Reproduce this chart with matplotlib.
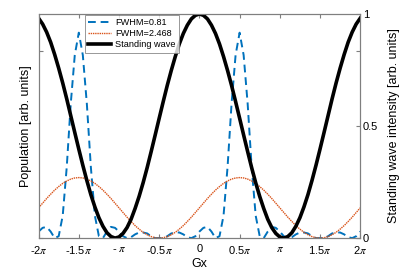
import numpy as np
import matplotlib
matplotlib.use("Agg")
import matplotlib.pyplot as plt

plt.rcParams['font.family'] = ['Liberation Sans', 'DejaVu Sans']
plt.rcParams['mathtext.fontset'] = 'stix'

# x positions in units of pi, step 0.05
x_pi = np.arange(-40, 41) / 20.0

# FWHM=0.81 population (left axis, 0..1.2)
pop_narrow = [
    0.035, 0.055, 0.06, 0.035, 0.0, 0.01, 0.12, 0.38, 0.72, 0.98,
    1.10, 0.98, 0.72, 0.38, 0.12, 0.01, 0.0, 0.035, 0.06, 0.055,
    0.035, 0.01, 0.0, 0.005, 0.02, 0.03, 0.03, 0.025, 0.01, 0.0,
    0.0, 0.0, 0.01, 0.025, 0.03, 0.03, 0.02, 0.005, 0.0, 0.01,
    0.035, 0.055, 0.06, 0.035, 0.0, 0.01, 0.12, 0.38, 0.72, 0.98,
    1.10, 0.98, 0.72, 0.38, 0.12, 0.01, 0.0, 0.035, 0.06, 0.055,
    0.035, 0.01, 0.0, 0.005, 0.02, 0.03, 0.03, 0.025, 0.01, 0.0,
    0.0, 0.0, 0.01, 0.025, 0.03, 0.03, 0.02, 0.005, 0.0, 0.01,
    0.035,
]

# FWHM=2.468 population (left axis)
pop_broad = [
    0.162, 0.187, 0.212, 0.235, 0.257, 0.276, 0.293, 0.306, 0.316, 0.322,
    0.324, 0.322, 0.316, 0.306, 0.293, 0.276, 0.257, 0.235, 0.212, 0.187,
    0.162, 0.137, 0.112, 0.089, 0.067, 0.048, 0.031, 0.018, 0.008, 0.002,
    0.0, 0.002, 0.008, 0.018, 0.031, 0.048, 0.067, 0.089, 0.112, 0.137,
    0.162, 0.187, 0.212, 0.235, 0.257, 0.276, 0.293, 0.306, 0.316, 0.322,
    0.324, 0.322, 0.316, 0.306, 0.293, 0.276, 0.257, 0.235, 0.212, 0.187,
    0.162, 0.137, 0.112, 0.089, 0.067, 0.048, 0.031, 0.018, 0.008, 0.002,
    0.0, 0.002, 0.008, 0.018, 0.031, 0.048, 0.067, 0.089, 0.112, 0.137,
    0.162,
]

# standing wave intensity (right axis, 0..1)
wave = [
    0.981, 0.955, 0.919, 0.874, 0.819, 0.758, 0.692, 0.621, 0.546, 0.471,
    0.397, 0.325, 0.257, 0.194, 0.139, 0.091, 0.053, 0.024, 0.007, 0.0,
    0.005, 0.021, 0.047, 0.084, 0.132, 0.186, 0.247, 0.314, 0.386, 0.460,
    0.535, 0.609, 0.681, 0.748, 0.810, 0.866, 0.913, 0.950, 0.978, 0.994,
    1.0,
    0.994, 0.978, 0.950, 0.913, 0.866, 0.810, 0.748, 0.681, 0.609, 0.535,
    0.460, 0.386, 0.314, 0.247, 0.186, 0.132, 0.084, 0.047, 0.021, 0.005,
    0.0, 0.007, 0.024, 0.053, 0.091, 0.139, 0.194, 0.257, 0.325, 0.397,
    0.471, 0.546, 0.621, 0.692, 0.758, 0.819, 0.874, 0.919, 0.955, 0.981,
]

xtick_pos = [-2, -1.5, -1, -0.5, 0, 0.5, 1, 1.5, 2]
xtick_lab = [r'-2$\pi$', r'-1.5$\pi$', r'- $\pi$', r'-0.5$\pi$', '0',
             r'0.5$\pi$', r'$\pi$', r'1.5$\pi$', r'2$\pi$']

x = np.array(x_pi) * np.pi
gray = '#7f7f7f'

fig = plt.figure(figsize=(4.15, 2.74), dpi=100)
ax = fig.add_axes([0.093, 0.131, 0.775, 0.818])
ax2 = ax.twinx()

l1, = ax.plot(x, pop_narrow, color='#0072BD', ls=(0, (4, 2.5)), lw=1.4, label='FWHM=0.81')
l2, = ax.plot(x, pop_broad, color='#D95319', ls=(0, (1, 0.6)), lw=1.0, label='FWHM=2.468')
l3, = ax2.plot(x, wave, color='black', lw=2.6, label='Standing wave')

ax.set_xlim(-2 * np.pi, 2 * np.pi)
ax.set_ylim(0, 1.2)
ax.set_yticks([0, 1])
ax.set_yticklabels([])
ax2.set_ylim(0, 1)
ax2.set_yticks([0, 0.5, 1])
ax2.set_yticklabels(['0', '0.5', '1'])

ax.set_xticks(np.array(xtick_pos) * np.pi)
ax.set_xticklabels(xtick_lab)

ax.tick_params(axis='x', direction='in', top=True, length=3, color=gray, labelsize=8, pad=4)
ax.tick_params(axis='y', direction='in', right=True, length=3, color=gray)
ax2.tick_params(axis='y', direction='in', length=3, color=gray, labelsize=8, pad=2)

for a in (ax, ax2):
    for s in a.spines.values():
        s.set_color(gray)
        s.set_linewidth(0.8)

ax.set_xlabel('Gx', fontsize=9, labelpad=2)
ax.set_ylabel('Population [arb. units]', fontsize=9)
ax2.set_ylabel('Standing wave intensity [arb. units]', fontsize=9)
ax.yaxis.set_label_coords(-0.02, 0.5)
ax2.yaxis.set_label_coords(1.087, 0.5)

leg = ax2.legend(handles=[l1, l2, l3], loc='upper left', bbox_to_anchor=(0.145, 0.997),
                 fontsize=6.6, frameon=True, fancybox=False, handlelength=2.5,
                 borderpad=0.35, labelspacing=0.25, handletextpad=0.4, borderaxespad=0)
leg.get_frame().set_edgecolor(gray)
leg.get_frame().set_linewidth(0.7)

fig.savefig('out.png', dpi=100)
